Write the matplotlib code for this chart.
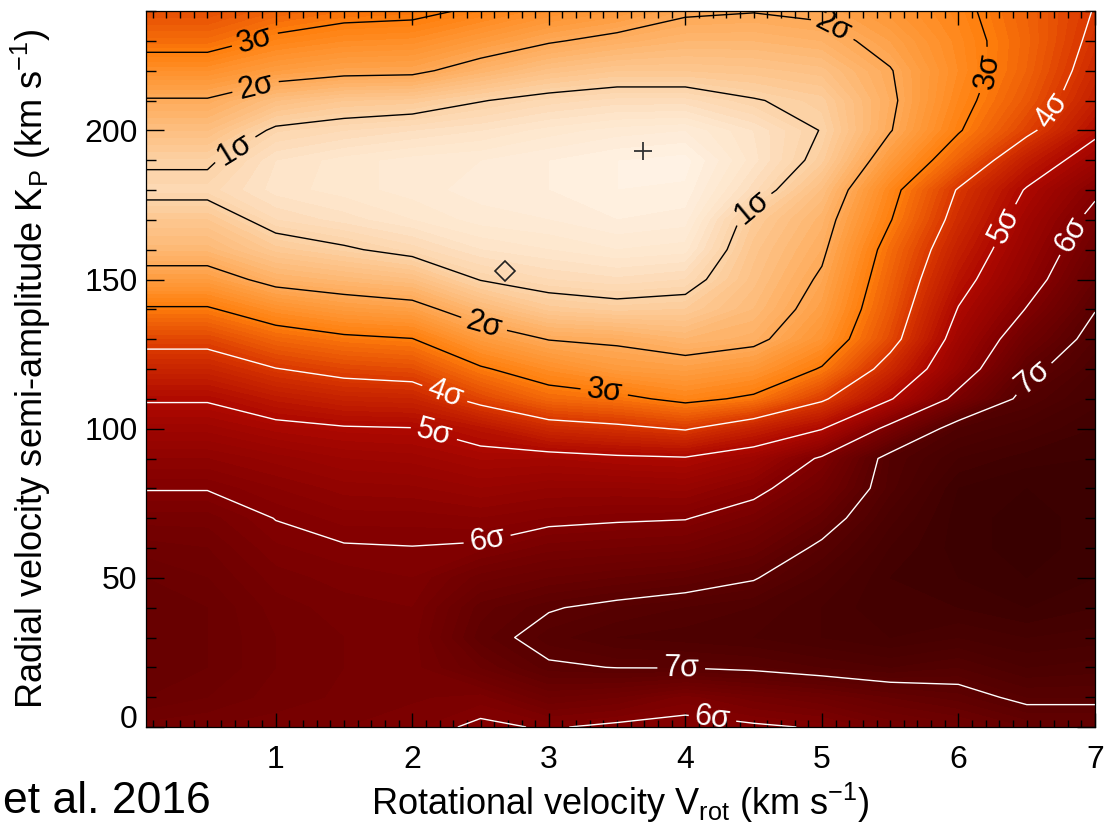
import numpy as np
import matplotlib
matplotlib.use("Agg")
import matplotlib.pyplot as plt
from matplotlib.colors import LinearSegmentedColormap
from matplotlib.ticker import MultipleLocator
from matplotlib.transforms import ScaledTranslation

plt.rcParams['font.family'] = ['Liberation Sans', 'DejaVu Sans']
plt.rcParams['mathtext.fontset'] = 'custom'
plt.rcParams['mathtext.rm'] = 'Liberation Sans'
plt.rcParams['mathtext.it'] = 'Liberation Sans:italic'
plt.rcParams['mathtext.bf'] = 'Liberation Sans:bold'

# grid of the likelihood map
vrot = [0.05, 0.5, 1.0, 1.5, 2.0, 2.5, 3.0, 3.5, 4.0, 4.5, 5.0, 5.5, 6.0, 6.5, 7.0]
kp = [0, 10, 20, 30, 40, 50, 60, 70, 80, 90, 100, 110, 120,
      130, 140, 150, 160, 170, 180, 190, 200, 210, 220, 230, 240]

# significance (sigma) along Kp for each rotational velocity
sig_v0_05 = [6.35, 6.6, 6.7, 6.7, 6.7, 6.6, 6.45, 6.25, 5.98, 5.7, 5.35, 4.95, 4.4,
             3.8, 3.07, 2.3, 1.65, 1.3, 0.85, 1.07, 1.5, 1.95, 2.6, 3.25, 3.7]
sig_v0_5 = [6.3, 6.5, 6.6, 6.6, 6.6, 6.5, 6.4, 6.25, 5.98, 5.7, 5.35, 4.95, 4.4,
            3.8, 3.07, 2.3, 1.65, 1.3, 0.85, 1.07, 1.5, 1.95, 2.6, 3.25, 3.7]
sig_v1_0 = [6.25, 6.35, 6.4, 6.4, 6.35, 6.25, 6.12, 5.99, 5.8, 5.55, 5.15, 4.65, 4.02,
            3.35, 2.6, 1.8, 1.25, 0.8, 0.55, 0.6, 0.92, 1.5, 2.3, 2.87, 3.4]
sig_v1_5 = [6.2, 6.28, 6.3, 6.3, 6.25, 6.15, 6.03, 5.85, 5.65, 5.4, 5.05, 4.45, 3.8,
            3.12, 2.35, 1.65, 1.06, 0.65, 0.45, 0.45, 0.8, 1.3, 2.15, 2.7, 3.2]
sig_v2_0 = [6.12, 6.22, 6.25, 6.25, 6.2, 6.1, 6.01, 5.85, 5.62, 5.35, 5.02, 4.4, 3.7,
            3.02, 2.22, 1.5, 0.85, 0.5, 0.35, 0.35, 0.7, 1.25, 2.12, 2.65, 3.15]
sig_v2_5 = [5.94, 6.15, 6.6, 6.85, 6.75, 6.45, 6.05, 5.8, 5.5, 5.18, 4.75, 3.8, 3.07,
            2.35, 1.65, 0.98, 0.6, 0.35, 0.25, 0.3, 0.6, 1.02, 1.75, 2.35, 2.9]
sig_v3_0 = [6.03, 6.5, 6.95, 7.15, 6.97, 6.6, 6.25, 5.9, 5.6, 5.2, 4.3, 3.3, 2.65,
            1.98, 1.25, 0.8, 0.5, 0.3, 0.2, 0.2, 0.45, 0.85, 1.45, 2.05, 2.6]
sig_v3_5 = [5.93, 6.4, 7.01, 7.3, 7.1, 6.7, 6.3, 5.95, 5.6, 5.1, 4.15, 3.15, 2.35,
            1.9, 1.15, 0.72, 0.4, 0.2, 0.1, 0.1, 0.35, 0.75, 1.3, 1.85, 2.4]
sig_v4_0 = [5.9, 6.15, 7.02, 7.35, 7.2, 6.8, 6.35, 5.98, 5.55, 5.05, 3.95, 2.85, 2.25,
            1.7, 1.2, 0.8, 0.45, 0.25, 0.12, 0.05, 0.3, 0.75, 1.3, 1.7, 2.08]
sig_v4_5 = [5.95, 6.35, 7.08, 7.4, 7.3, 6.97, 6.6, 6.25, 5.85, 5.35, 4.45, 3.1, 2.45,
            1.85, 1.6, 1.45, 1.35, 1.2, 0.75, 0.55, 0.6, 0.97, 1.35, 1.7, 2.02]
sig_v5_0 = [6.03, 6.5, 7.2, 7.5, 7.5, 7.35, 7.1, 6.75, 6.4, 6.08, 4.97, 3.9, 3.05,
            2.5, 2.25, 2.08, 1.9, 1.75, 1.5, 1.15, 1.02, 1.15, 1.45, 1.8, 2.1]
sig_v5_5 = [6.3, 6.7, 7.3, 7.6, 7.7, 7.7, 7.6, 7.45, 7.25, 7.2, 6.2, 4.95, 4.3,
            3.75, 3.55, 3.4, 3.25, 2.97, 2.8, 2.35, 1.97, 1.9, 1.97, 2.2, 2.45]
sig_v6_0 = [6.45, 6.85, 7.2, 7.5, 7.7, 7.8, 7.85, 7.85, 7.8, 7.6, 7.3, 6.2, 5.6,
            5.3, 5.03, 4.75, 4.5, 4.25, 4.05, 3.4, 2.95, 2.8, 2.7, 2.75, 2.85]
sig_v6_5 = [6.7, 7.1, 7.4, 7.6, 7.8, 7.9, 7.95, 7.95, 7.9, 7.75, 7.5, 7.2, 6.85,
            6.45, 6.03, 5.7, 5.5, 5.3, 5.05, 4.55, 3.85, 3.55, 3.4, 3.35, 3.4]
sig_v7_0 = [6.7, 7.1, 7.35, 7.55, 7.7, 7.8, 7.85, 7.85, 7.85, 7.8, 7.7, 7.55, 7.4,
            7.2, 6.98, 6.7, 6.45, 6.2, 5.88, 5.35, 4.85, 4.5, 4.3, 4.15, 4.03]

sigma_levels_dark = [1, 2, 3]
sigma_levels_light = [4, 5, 6, 7]

best_fit = (3.69, 193)      # maximum likelihood
literature = (2.68, 153)    # diamond

columns = [sig_v0_05, sig_v0_5, sig_v1_0, sig_v1_5, sig_v2_0, sig_v2_5, sig_v3_0,
           sig_v3_5, sig_v4_0, sig_v4_5, sig_v5_0, sig_v5_5, sig_v6_0, sig_v6_5, sig_v7_0]
sigma = np.array(columns).T
V, K = np.meshgrid(vrot, kp)

# reversed "red temperature" style table
anchors = [(0.0, (255, 243, 230)), (0.5, (254, 230, 204)), (1.0, (252, 211, 168)),
           (2.0, (254, 170, 88)), (3.0, (255, 127, 12)), (4.0, (218, 56, 0)),
           (5.0, (174, 8, 0)), (6.0, (130, 0, 0)), (7.0, (90, 0, 0)), (8.0, (56, 0, 0))]
cmap = LinearSegmentedColormap.from_list(
    'redtemp_r', [(s / 8.0, tuple(c / 255 for c in rgb)) for s, rgb in anchors])

fig = plt.figure(figsize=(11.06, 8.24), dpi=100)
ax = fig.add_axes([146 / 1106, 1 - 727 / 824, 949 / 1106, 716 / 824])

ax.contourf(V, K, sigma, levels=np.arange(0, 8.21, 0.1), cmap=cmap, vmin=0, vmax=8)
cs_dark = ax.contour(V, K, sigma, levels=sigma_levels_dark, colors='black', linewidths=1.0)
cs_light = ax.contour(V, K, sigma, levels=sigma_levels_light, colors='white', linewidths=1.0)

fmt = {lv: '%d\u03c3' % lv for lv in sigma_levels_dark + sigma_levels_light}
ax.clabel(cs_dark, fmt=fmt, fontsize=22, inline=True, inline_spacing=6,
          manual=[(0.85, 230), (0.85, 215), (0.63, 199), (5.1, 236), (6.25, 220),
                  (4.44, 176.5), (2.53, 136), (3.41, 114)])
ax.clabel(cs_light, fmt=fmt, fontsize=22, inline=True, inline_spacing=6,
          manual=[(6.67, 207), (6.3, 169), (6.8, 166), (2.24, 112), (2.16, 98.7),
                  (6.56, 116), (2.55, 62.4), (3.97, 19.8), (4.2, 3.4)])

ax.plot(best_fit[0], best_fit[1], marker='+', ms=13, mew=1.3, color='#333333')
ax.plot(literature[0], literature[1], marker='D', ms=10, mfc='none', mec='#222222', mew=1.2)

ax.set_xlim(0.05, 7.0)
ax.set_ylim(0, 240)
ax.set_xticks([1, 2, 3, 4, 5, 6, 7])
ax.set_yticks([0, 50, 100, 150, 200])
ax.xaxis.set_minor_locator(MultipleLocator(0.1))
ax.yaxis.set_minor_locator(MultipleLocator(10))
ax.tick_params(which='both', direction='in', top=True, right=True, width=1.0, color='black')
ax.tick_params(axis='x', which='major', length=10, pad=13, labelsize=23)
ax.tick_params(axis='x', which='minor', length=5)
ax.tick_params(axis='y', which='major', length=13, pad=6, labelsize=23)
ax.tick_params(axis='y', which='minor', length=7)
for sp in ax.spines.values():
    sp.set_linewidth(0.9)

# lift the "0" label off the bottom axis
zero_lbl = ax.get_yticklabels()[0]
zero_lbl.set_transform(zero_lbl.get_transform() + ScaledTranslation(0, 11 / 100, fig.dpi_scale_trans))

ax.set_xlabel(r'Rotational velocity V$_{\rm rot}$ (km s$^{-1}$)', fontsize=26)
ax.set_ylabel(r'Radial velocity semi-amplitude K$_{\rm P}$ (km s$^{-1}$)', fontsize=26)
ax.xaxis.set_label_coords(0.5, -0.075)
ax.yaxis.set_label_coords(-0.098, 0.5)

fig.text(0.003, 0.003, 'et al. 2016', fontsize=32, ha='left', va='bottom')

fig.savefig('out.png', dpi=100)
